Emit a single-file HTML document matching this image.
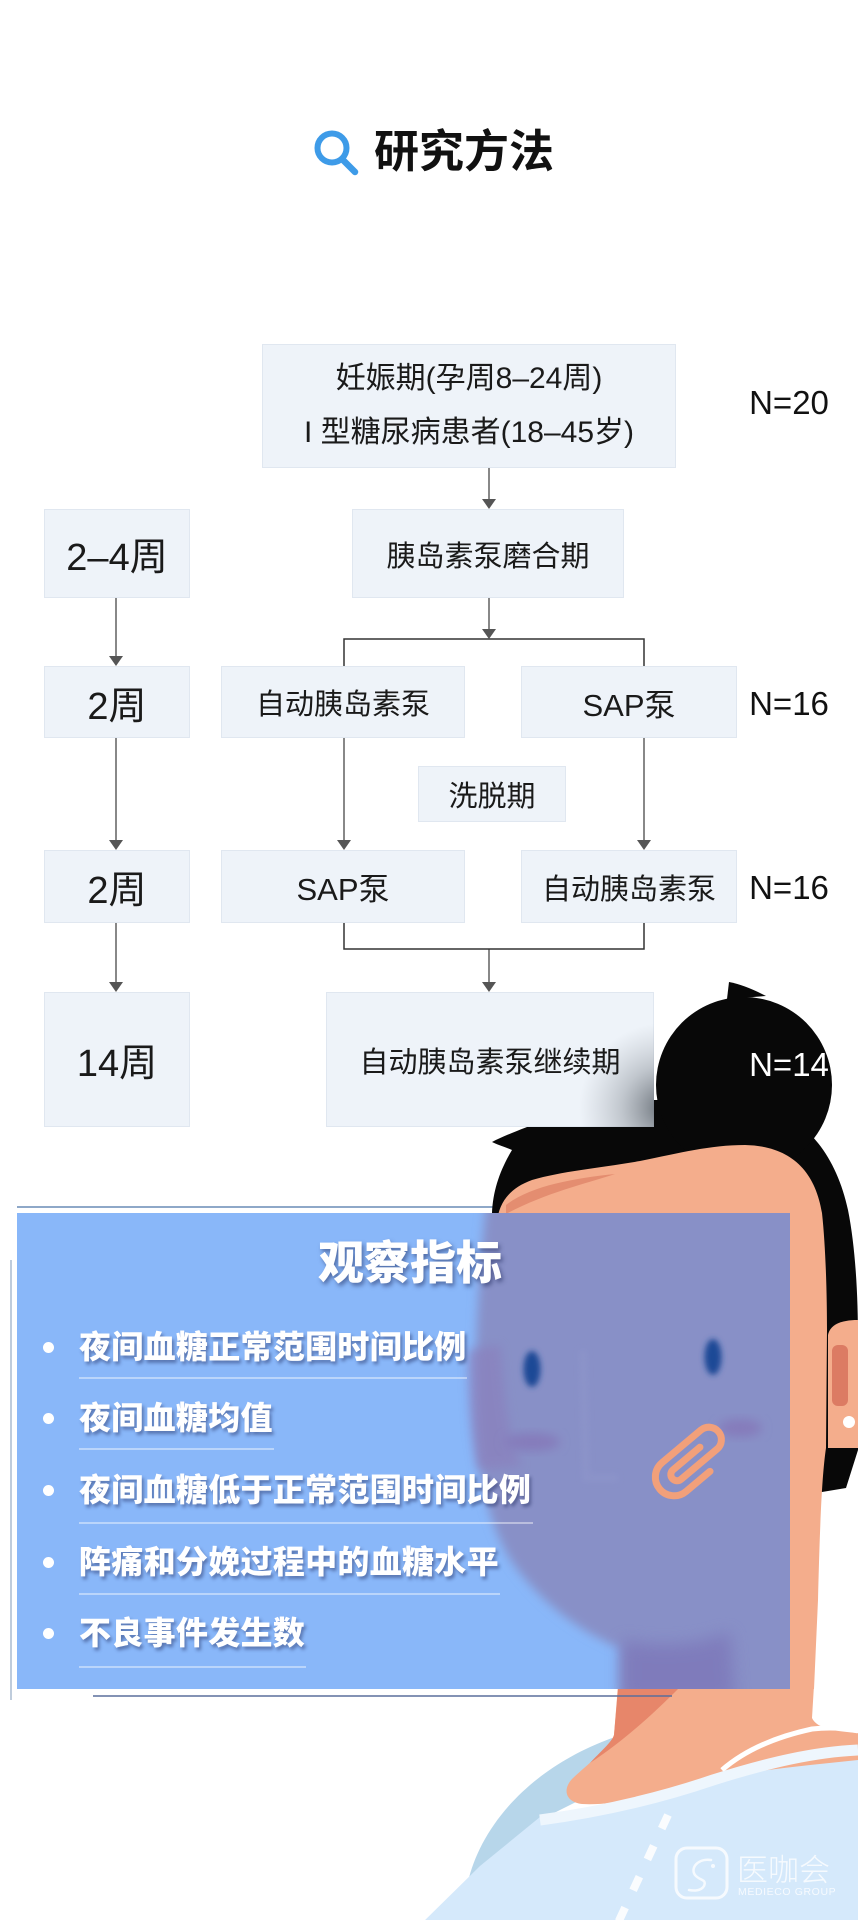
<!DOCTYPE html>
<html lang="zh">
<head>
<meta charset="utf-8">
<style>
  html,body{margin:0;padding:0;background:#fff;}
  body{width:858px;height:1920px;position:relative;overflow:hidden;
       font-family:"Liberation Sans","Noto Sans CJK SC",sans-serif;}
  svg{position:absolute;left:0;top:0;}
  .lbl{position:absolute;display:flex;align-items:center;justify-content:center;
       font-size:29px;font-weight:400;color:#1a1a1a;white-space:nowrap;text-align:center;}
  .big{font-size:38px;font-weight:400;}
  .sap{font-size:31px;}
  .n{position:absolute;width:110px;left:734px;height:40px;line-height:40px;text-align:center;
     font-family:"Liberation Sans",sans-serif;font-size:33px;color:#111;}
  .item{position:absolute;left:79px;height:40px;line-height:40px;font-size:32px;font-weight:900;
        color:#fff;white-space:nowrap;text-shadow:2px 3px 3px rgba(30,40,90,.45);letter-spacing:0.3px;}
  .dot{position:absolute;left:43px;width:11px;height:11px;border-radius:50%;background:#fff;}
  .uline{position:absolute;left:79px;height:1.5px;background:rgba(255,255,255,.42);}
</style>
</head>
<body>
<svg width="858" height="1920" viewBox="0 0 858 1920">
  <defs>
    <filter id="b5" x="-30%" y="-30%" width="160%" height="160%"><feGaussianBlur stdDeviation="5"/></filter>
    <filter id="b3" x="-50%" y="-50%" width="200%" height="200%"><feGaussianBlur stdDeviation="3"/></filter>
    <filter id="b8" x="-50%" y="-50%" width="200%" height="200%"><feGaussianBlur stdDeviation="8"/></filter>
    <clipPath id="pc"><rect x="17" y="1213" width="773" height="476"/></clipPath>
    <radialGradient id="sh" cx="664" cy="1108" r="85" gradientUnits="userSpaceOnUse">
      <stop offset="0" stop-color="#596068" stop-opacity="0.9"/>
      <stop offset="0.5" stop-color="#7d848c" stop-opacity="0.4"/>
      <stop offset="1" stop-color="#9aa0a8" stop-opacity="0"/>
    </radialGradient>
  </defs>

  <!-- title icon -->
  <circle cx="332" cy="148" r="14.5" fill="none" stroke="#3e9be8" stroke-width="6"/>
  <line x1="343" y1="160" x2="355" y2="172" stroke="#3e9be8" stroke-width="6.5" stroke-linecap="round"/>

  <!-- lines around panel -->
  <line x1="17" y1="1207" x2="500" y2="1207" stroke="#8ea8c8" stroke-width="2"/>
  <line x1="11" y1="1260" x2="11" y2="1700" stroke="#7f98b8" stroke-width="1"/>

  <!-- shirt -->
  <path d="M468,1882 C480,1830 525,1770 612,1738 L640,1770 L540,1820 L480,1868 Z" fill="#b7d6ea"/>
  <path d="M420,1925 L480,1866 L540,1817 C600,1810 660,1796 713,1778 C770,1760 815,1750 858,1748 L858,1925 Z" fill="#d5e9fb"/>

  <!-- hair -->
  <path d="M492,1142 C505,1135 525,1128 545,1120 L545,1100 L745,1100 C800,1110 835,1150 848,1210 C856,1250 858,1300 858,1340 L858,1450 L846,1488 L822,1492 L492,1492 L492,1213 C493,1190 500,1170 512,1150 C505,1147 498,1145 492,1142 Z" fill="#080808"/>
  <circle cx="744" cy="1085" r="88" fill="#080808"/>
  <path d="M727,999 L729,982 Q745,985 766,996 Z" fill="#080808"/>

  <!-- face skin -->
  <path d="M497,1689 L497,1222 C499,1202 510,1188 532,1180 C562,1171 600,1168 640,1161 C680,1153 710,1145 745,1145 C790,1146 815,1170 822,1213 C826,1250 827,1300 827,1330 L826,1448 C822,1475 820,1520 818,1600 L814,1689 Z" fill="#f4ad8c"/>
  <path d="M506,1205 C530,1186 575,1178 615,1174 C585,1184 545,1193 506,1214 Z" fill="#e48d70"/>
  <!-- ear -->
  <path d="M828,1335 C830,1325 840,1320 858,1320 L858,1448 L828,1448 Z" fill="#f4ad8c"/>
  <rect x="832" y="1345" width="16" height="61" rx="6" fill="#dc7b63"/>
  <circle cx="849" cy="1422" r="6" fill="#fff"/>

  <!-- neck -->
  <path d="M618,1685 L814,1685 L812,1718 C816,1727 830,1731 858,1733 L858,1760 C810,1765 760,1770 713,1778 C670,1792 620,1806 582,1804 C566,1802 562,1790 572,1779 C592,1760 610,1748 614,1735 Z" fill="#f4ad8c"/>
  <path d="M618,1689 L678,1689 C655,1712 625,1740 590,1763 C600,1752 612,1742 614,1735 Z" fill="#e7866a"/>
  <path d="M722,1770 C745,1750 775,1737 812,1729 C830,1727 845,1728 858,1731" fill="none" stroke="#fff" stroke-width="5"/>
  <path d="M540,1820 C600,1812 660,1798 713,1780 C770,1762 815,1752 858,1750" fill="none" stroke="#eef6fd" stroke-width="11"/>
  <line x1="668" y1="1815" x2="617" y2="1925" stroke="#fff" stroke-width="8" stroke-dasharray="15 19" opacity="0.9"/>

  <!-- logo watermark -->
  <g opacity="0.8">
    <rect x="676" y="1848" width="51" height="50" rx="11" fill="none" stroke="#fff" stroke-width="3"/>
    <path d="M711,1860 C698,1858 690,1868 695,1875 C700,1881 707,1879 704,1886 C701,1891 694,1891 689,1890" fill="none" stroke="#fff" stroke-width="2.5" stroke-linecap="round"/>
    <circle cx="713" cy="1866" r="2" fill="#fff"/>
    <text x="737" y="1881" font-size="31" fill="#fff" font-family="'Liberation Sans','Noto Sans CJK SC',sans-serif" font-weight="300">医咖会</text>
    <text x="738" y="1895" font-size="10.5" fill="#fff" font-family="'Liberation Sans',sans-serif" letter-spacing="0.6">MEDIECO GROUP</text>
  </g>

  <!-- flowchart connectors -->
  <g stroke="#555" stroke-width="1.4" fill="none">
    <line x1="489" y1="468" x2="489" y2="500"/>
    <line x1="489" y1="598" x2="489" y2="630"/>
    <line x1="344" y1="738" x2="344" y2="841"/>
    <line x1="644" y1="738" x2="644" y2="841"/>
    <line x1="489" y1="949" x2="489" y2="983"/>
    <line x1="116" y1="598" x2="116" y2="657"/>
    <line x1="116" y1="738" x2="116" y2="841"/>
    <line x1="116" y1="923" x2="116" y2="983"/>
  </g>
  <g stroke="#333" stroke-width="1.5" fill="none">
    <polyline points="344,666 344,639 644,639 644,666"/>
    <polyline points="344,923 344,949 644,949 644,923"/>
  </g>
  <g fill="#555">
    <polygon points="482,499 496,499 489,509"/>
    <polygon points="482,629 496,629 489,639"/>
    <polygon points="337,840 351,840 344,850"/>
    <polygon points="637,840 651,840 644,850"/>
    <polygon points="482,982 496,982 489,992"/>
    <polygon points="109,656 123,656 116,666"/>
    <polygon points="109,840 123,840 116,850"/>
    <polygon points="109,982 123,982 116,992"/>
  </g>

  <!-- boxes -->
  <g fill="#eef3f9" stroke="#e0e7f0" stroke-width="1">
    <rect x="262.5" y="344.5" width="413" height="123"/>
    <rect x="44.5" y="509.5" width="145" height="88"/>
    <rect x="352.5" y="509.5" width="271" height="88"/>
    <rect x="44.5" y="666.5" width="145" height="71"/>
    <rect x="221.5" y="666.5" width="243" height="71"/>
    <rect x="521.5" y="666.5" width="215" height="71"/>
    <rect x="418.5" y="766.5" width="147" height="55"/>
    <rect x="44.5" y="850.5" width="145" height="72"/>
    <rect x="221.5" y="850.5" width="243" height="72"/>
    <rect x="521.5" y="850.5" width="215" height="72"/>
    <rect x="44.5" y="992.5" width="145" height="134"/>
    <rect x="326.5" y="992.5" width="327" height="134"/>
  </g>
  <rect x="326" y="992" width="328" height="135" fill="url(#sh)"/>

  <!-- panel -->
  <rect x="17" y="1213" width="773" height="476" fill="#89b7f9"/>
  <g clip-path="url(#pc)">
    <path filter="url(#b5)" fill="#8890c7" d="M487,1195 L810,1195 L810,1710 L620,1710 L620,1648 C580,1632 540,1602 512,1562 C490,1527 478,1480 476,1420 C474,1360 478,1280 487,1195 Z"/>
    <path filter="url(#b5)" fill="#8a80bd" opacity="0.7" d="M468,1350 L500,1345 C505,1400 508,1440 522,1466 L478,1470 C471,1440 468,1400 468,1350 Z"/>
    <ellipse filter="url(#b5)" cx="532" cy="1442" rx="28" ry="9" fill="#857bbb"/>
    <ellipse filter="url(#b5)" cx="740" cy="1428" rx="22" ry="9" fill="#857bbb"/>
    <path filter="url(#b3)" d="M583,1350 L586,1478 L618,1478" fill="none" stroke="#8f96cb" stroke-width="8" opacity="0.55"/>
    <path filter="url(#b8)" fill="#7d77b9" opacity="0.8" d="M622,1640 C660,1648 700,1645 730,1632 L735,1700 L622,1700 Z"/>
    <ellipse filter="url(#b3)" cx="532" cy="1369" rx="8.5" ry="18" fill="#1f4a96"/>
    <ellipse filter="url(#b3)" cx="713" cy="1357" rx="8.5" ry="18" fill="#1f4a96"/>
    <g transform="translate(692,1462) rotate(-40) scale(0.78)">
      <path d="M20,-8 L-25,-8 A8,8 0 0 0 -25,8 L35,8 A16,16 0 0 0 35,-24 L-30,-24 A24,24 0 0 0 -30,24 L10,24" fill="none" stroke="#f2a07a" stroke-width="9" stroke-linecap="round" stroke-linejoin="round"/>
    </g>
  </g>
  <line x1="93" y1="1696" x2="672" y2="1696" stroke="#5a6e9b" stroke-width="1.5"/>
</svg>

<!-- title -->
<div style="position:absolute;left:374px;top:126px;height:52px;line-height:52px;font-size:45px;font-weight:700;color:#111;white-space:nowrap;">研究方法</div>

<!-- flowchart labels -->
<div class="lbl" style="left:262px;top:352px;width:414px;height:108px;flex-direction:column;line-height:54px;font-size:30px;">
  <div>妊娠期(孕周8–24周)</div>
  <div>I 型糖尿病患者(18–45岁)</div>
</div>
<div class="lbl big" style="left:44px;top:509px;width:146px;height:89px;">2–4周</div>
<div class="lbl" style="left:352px;top:509px;width:272px;height:89px;">胰岛素泵磨合期</div>
<div class="lbl big" style="left:44px;top:666px;width:146px;height:72px;">2周</div>
<div class="lbl" style="left:221px;top:666px;width:244px;height:72px;">自动胰岛素泵</div>
<div class="lbl sap" style="left:521px;top:666px;width:216px;height:72px;">SAP泵</div>
<div class="lbl" style="left:418px;top:766px;width:148px;height:56px;">洗脱期</div>
<div class="lbl big" style="left:44px;top:850px;width:146px;height:73px;">2周</div>
<div class="lbl sap" style="left:221px;top:850px;width:244px;height:73px;">SAP泵</div>
<div class="lbl" style="left:521px;top:850px;width:216px;height:73px;">自动胰岛素泵</div>
<div class="lbl big" style="left:44px;top:992px;width:146px;height:135px;">14周</div>
<div class="lbl" style="left:326px;top:992px;width:328px;height:135px;">自动胰岛素泵继续期</div>

<div class="n" style="top:383px;">N=20</div>
<div class="n" style="top:684px;">N=16</div>
<div class="n" style="top:868px;">N=16</div>
<div class="n" style="top:1045px;color:#fff;">N=14</div>

<!-- panel text -->
<div style="position:absolute;left:300px;top:1235px;width:220px;height:56px;line-height:56px;text-align:center;font-size:46px;font-weight:900;color:#fff;text-shadow:2px 3px 4px rgba(30,40,90,.5);white-space:nowrap;">观察指标</div>

<div class="dot" style="top:1342px;"></div>
<div class="item" style="top:1327px;">夜间血糖正常范围时间比例</div>
<div class="uline" style="top:1377px;width:388px;"></div>

<div class="dot" style="top:1413px;"></div>
<div class="item" style="top:1398px;">夜间血糖均值</div>
<div class="uline" style="top:1448px;width:195px;"></div>

<div class="dot" style="top:1485px;"></div>
<div class="item" style="top:1470px;">夜间血糖低于正常范围时间比例</div>
<div class="uline" style="top:1522px;width:454px;"></div>

<div class="dot" style="top:1557px;"></div>
<div class="item" style="top:1542px;">阵痛和分娩过程中的血糖水平</div>
<div class="uline" style="top:1593px;width:421px;"></div>

<div class="dot" style="top:1628px;"></div>
<div class="item" style="top:1613px;">不良事件发生数</div>
<div class="uline" style="top:1666px;width:227px;"></div>
</body>
</html>
